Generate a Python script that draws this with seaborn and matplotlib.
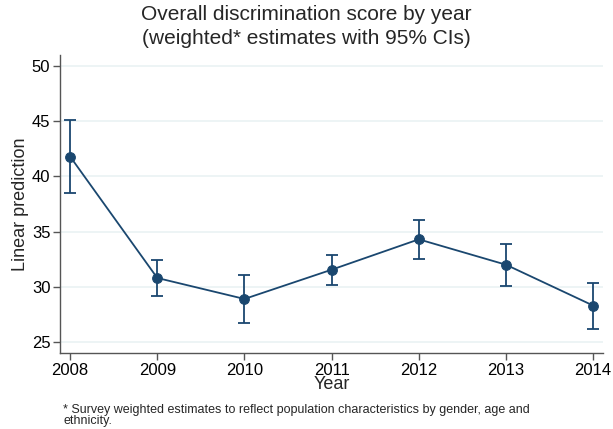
import numpy as np
import pandas as pd
import seaborn as sns
import matplotlib.pyplot as plt

# values
years = [2008, 2009, 2010, 2011, 2012, 2013, 2014]
estimate = [41.8, 30.8, 28.9, 31.55, 34.3, 32.0, 28.3]
ci_low = [38.5, 29.2, 26.75, 30.2, 32.5, 30.1, 26.15]
ci_high = [45.1, 32.4, 31.1, 32.85, 36.05, 33.85, 30.35]

df = pd.DataFrame({"Year": years, "est": estimate, "lo": ci_low, "hi": ci_high})

navy = "#1a476f"

sns.set_style("ticks")
plt.rcParams["font.family"] = ["Liberation Sans", "DejaVu Sans"]

fig = plt.figure(figsize=(6.13, 4.29), dpi=100)
ax = fig.add_axes([0.098, 0.177, 0.886, 0.695])

ax.errorbar(df["Year"], df["est"],
            yerr=[df["est"] - df["lo"], df["hi"] - df["est"]],
            fmt="none", ecolor=navy, elinewidth=1.3, capsize=4, capthick=1.3, zorder=3)
sns.lineplot(data=df, x="Year", y="est", ax=ax, color=navy, linewidth=1.3,
             marker="o", markersize=7, markeredgecolor=navy, zorder=4)

ax.set_xlim(2007.885, 2014.115)
ax.set_ylim(24.0, 51.0)
ax.set_xticks(years)
ax.set_yticks([25, 30, 35, 40, 45, 50])
ax.yaxis.grid(True, color="#eaf2f3", linewidth=1.2)
ax.set_axisbelow(True)

for s in ["top", "right"]:
    ax.spines[s].set_visible(False)
for s in ["left", "bottom"]:
    ax.spines[s].set_color("#555555")
    ax.spines[s].set_linewidth(1.0)

ax.tick_params(axis="both", direction="out", length=5, width=1, color="#555555",
               labelsize=12, labelcolor="black")
ax.tick_params(axis="x", pad=2)
ax.tick_params(axis="y", pad=2)
ax.set_xlabel("Year", fontsize=13, labelpad=-1)
ax.set_ylabel("Linear prediction", fontsize=13, labelpad=2)

fig.suptitle("Overall discrimination score by year\n(weighted* estimates with 95% CIs)",
             fontsize=15, y=0.988, linespacing=1.3)

fig.text(0.103, 0.005,
         "* Survey weighted estimates to reflect population characteristics by gender, age and\nethnicity.",
         fontsize=9, linespacing=0.9, va="bottom")

fig.savefig("out.png", dpi=100)
